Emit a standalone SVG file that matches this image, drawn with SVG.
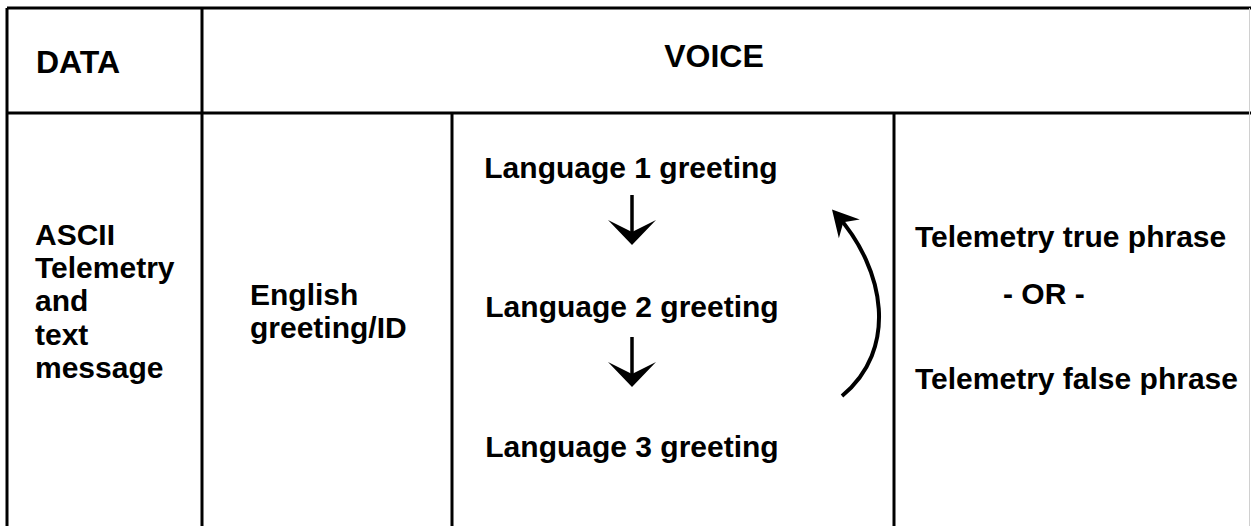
<svg xmlns="http://www.w3.org/2000/svg" width="1251" height="526" viewBox="0 0 1251 526">
<style>
.grid{stroke:#000;stroke-width:3;fill:none}
.faint{stroke:#d0d0d0;stroke-width:1;fill:none}
text{font-family:"Liberation Sans",Arial,sans-serif;font-weight:bold;fill:#000}
.hd{font-size:32px}
.bd{font-size:30px}
.mid{text-anchor:middle}
.arrow{stroke:#000;stroke-width:3.5;fill:none}
.curve{stroke-width:4}
</style>
<defs>
<marker id="downHead" viewBox="-26 -25 27 50" markerWidth="27" markerHeight="50" refX="-10" refY="0" orient="auto" markerUnits="userSpaceOnUse">
<path d="M0,0 L-25,-24 L-13,0 L-25,24 Z" fill="#000"/>
</marker>
<marker id="curveHead" viewBox="-28 -16 29 32" markerWidth="29" markerHeight="32" refX="-6" refY="0" orient="auto" markerUnits="userSpaceOnUse">
<path d="M0,0 L-26,-14 L-17,0 L-26,14 Z" fill="#000"/>
</marker>
</defs>
<rect width="1251" height="526" fill="#fff"/>
<g id="table-grid">
<line class="grid" x1="7" y1="8" x2="1251" y2="8"/>
<line class="grid" x1="7" y1="113" x2="1251" y2="113"/>
<line class="grid" x1="7" y1="8" x2="7" y2="526"/>
<line class="grid" x1="202" y1="8" x2="202" y2="526"/>
<line class="grid" x1="452" y1="113" x2="452" y2="526"/>
<line class="grid" x1="894" y1="113" x2="894" y2="526"/>
<line class="faint" x1="1249.5" y1="8" x2="1249.5" y2="526"/>
</g>
<g id="header-data"><text class="hd" x="36" y="73">DATA</text></g>
<g id="header-voice"><text class="hd mid" x="714" y="67">VOICE</text></g>
<g id="data-cell">
<text class="bd" x="35" y="245">ASCII</text>
<text class="bd" x="35" y="278">Telemetry</text>
<text class="bd" x="35" y="311">and</text>
<text class="bd" x="35" y="345">text</text>
<text class="bd" x="35" y="378">message</text>
</g>
<g id="english-greeting">
<text class="bd" x="250" y="305">English</text>
<text class="bd" x="250" y="338">greeting/ID</text>
</g>
<g id="language1"><text class="bd mid" x="631" y="178">Language 1 greeting</text></g>
<g id="language2"><text class="bd mid" x="632" y="317">Language 2 greeting</text></g>
<g id="language3"><text class="bd mid" x="632" y="457">Language 3 greeting</text></g>
<g id="telemetry-phrases">
<text class="bd" x="915" y="247">Telemetry true phrase</text>
<text class="bd" x="1003" y="304">- OR -</text>
<text class="bd" x="915" y="389">Telemetry false phrase</text>
</g>
<g id="connectors">
<line class="arrow" x1="632" y1="195" x2="632" y2="235" marker-end="url(#downHead)"/>
<line class="arrow" x1="632" y1="337" x2="632" y2="377" marker-end="url(#downHead)"/>
<path class="arrow curve" d="M842,396 C898,350 886,270 836,214" marker-end="url(#curveHead)"/>
</g>
</svg>
